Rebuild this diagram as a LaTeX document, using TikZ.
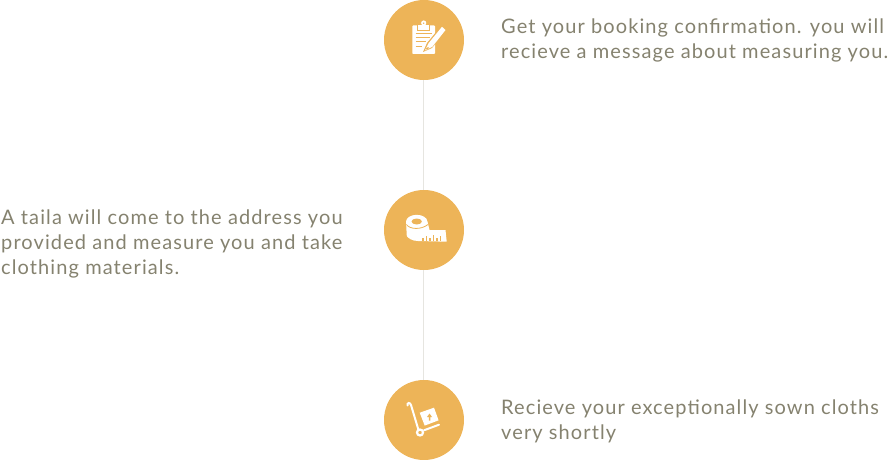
\documentclass[tikz,border=0pt]{standalone}
\usepackage{fontspec}
\setmainfont{Lato}[LetterSpace=5.5]
\definecolor{disc}{HTML}{EDB458}
\definecolor{txt}{HTML}{85826F}
\definecolor{rail}{HTML}{E6E5E0}
\tikzset{
  stepdisc/.style={circle,fill=disc,minimum size=80pt,inner sep=0pt},
  copy/.style={text=txt,font=\fontsize{20}{25}\selectfont,align=left,inner sep=0pt,anchor=north west},
  rail/.style={draw=rail,line width=1pt},
  ico/.style={fill=white,draw=none},
  icoline/.style={draw=white,line width=2pt,line cap=round},
  cutline/.style={draw=disc,line width=1pt}
}
\begin{document}
\begin{tikzpicture}[x=1pt,y=-1pt]
\useasboundingbox (0,0) rectangle (889,460);
\node[stepdisc] (one) at (424,40) {};
\node[stepdisc] (two) at (424,230) {};
\node[stepdisc] (three) at (424,420) {};
\draw[rail] ([xshift=-0.6pt]one.south) -- ([xshift=-0.6pt]two.north);
\draw[rail] ([xshift=-0.6pt]two.south) -- ([xshift=-0.6pt]three.north);
\node[copy] (t1) at (501,18.4) {Get your booking confirmation. you will\\recieve a message about measuring you.};
\node[copy] (t2) at (1,209.4) {A taila will come to the address you\\provided and measure you and take\\clothing materials.};
\node[copy] (t3) at (501,399.9) {Recieve your exceptionally sown cloths\\very shortly};
% clipboard icon
\fill[ico,rounded corners=0.8pt] (412.3,25.5) rectangle (435,54);
\draw[cutline,fill=white] (417.5,25) rectangle (429.5,30.5);
\fill[ico] (423.7,23) circle (2.6);
\fill[disc] (423.7,23.2) circle (0.8);
\draw[cutline] (415.5,33.5) -- (432,33.5) (415.5,37.8) -- (430,37.8) (415.5,42) -- (426,42) (415.5,46.2) -- (422,46.2);
\fill[disc] (441,26) -- (427,43) -- (423,52) -- (432,48) -- (446,31) -- cycle;
\fill[ico] (442,26.8) -- (428.5,43.3) -- (425,50.5) -- (432.3,46.8) -- (445.5,30) -- cycle;
\fill[disc] (426,48.5) -- (428.2,47) -- (429,48.2) -- (426,49.6) -- cycle;
% tape icon
\fill[ico] (406,221.7) -- (406.8,236) .. controls (408,238) and (412,241) .. (418,241) -- (446.7,241.7) -- (445.5,230) -- (429.5,230) -- (427.5,221.7) -- cycle;
\fill[ico] (416.7,221.7) ellipse (10.7 and 6.9);
\fill[disc] (416.7,221.5) ellipse (5.2 and 3);
\draw[disc,line width=0.8pt] (406.3,224.5) .. controls (410,229.5) and (421,230) .. (428,224.5);
\draw[disc,line width=1.3pt]
 (423,240.6) -- (423,238) (426.5,240.6) -- (426.5,236.3) (430,240.6) -- (430,238)
 (433.5,240.6) -- (433.5,235) (437,240.6) -- (437,238) (440.5,240.6) -- (440.5,235.6);
% hand truck icon
\draw[icoline] (407.5,405.5) .. controls (407,402.5) and (410,402) .. (411,405) -- (418.5,430);
\draw[icoline] (424,430.3) -- (439,424.7);
\draw[white,line width=2.2pt] (420,432.5) circle (3);
\fill[ico] (419.7,412.7) -- (434,407.7) -- (438.6,420.3) -- (424.7,425.6) -- cycle;
\fill[disc] (429.5,413.5) -- (432,417) -- (430.3,417) -- (430.3,420.7) -- (428.9,420.7) -- (428.9,417) -- (427,417) -- cycle;
\end{tikzpicture}
\end{document}
